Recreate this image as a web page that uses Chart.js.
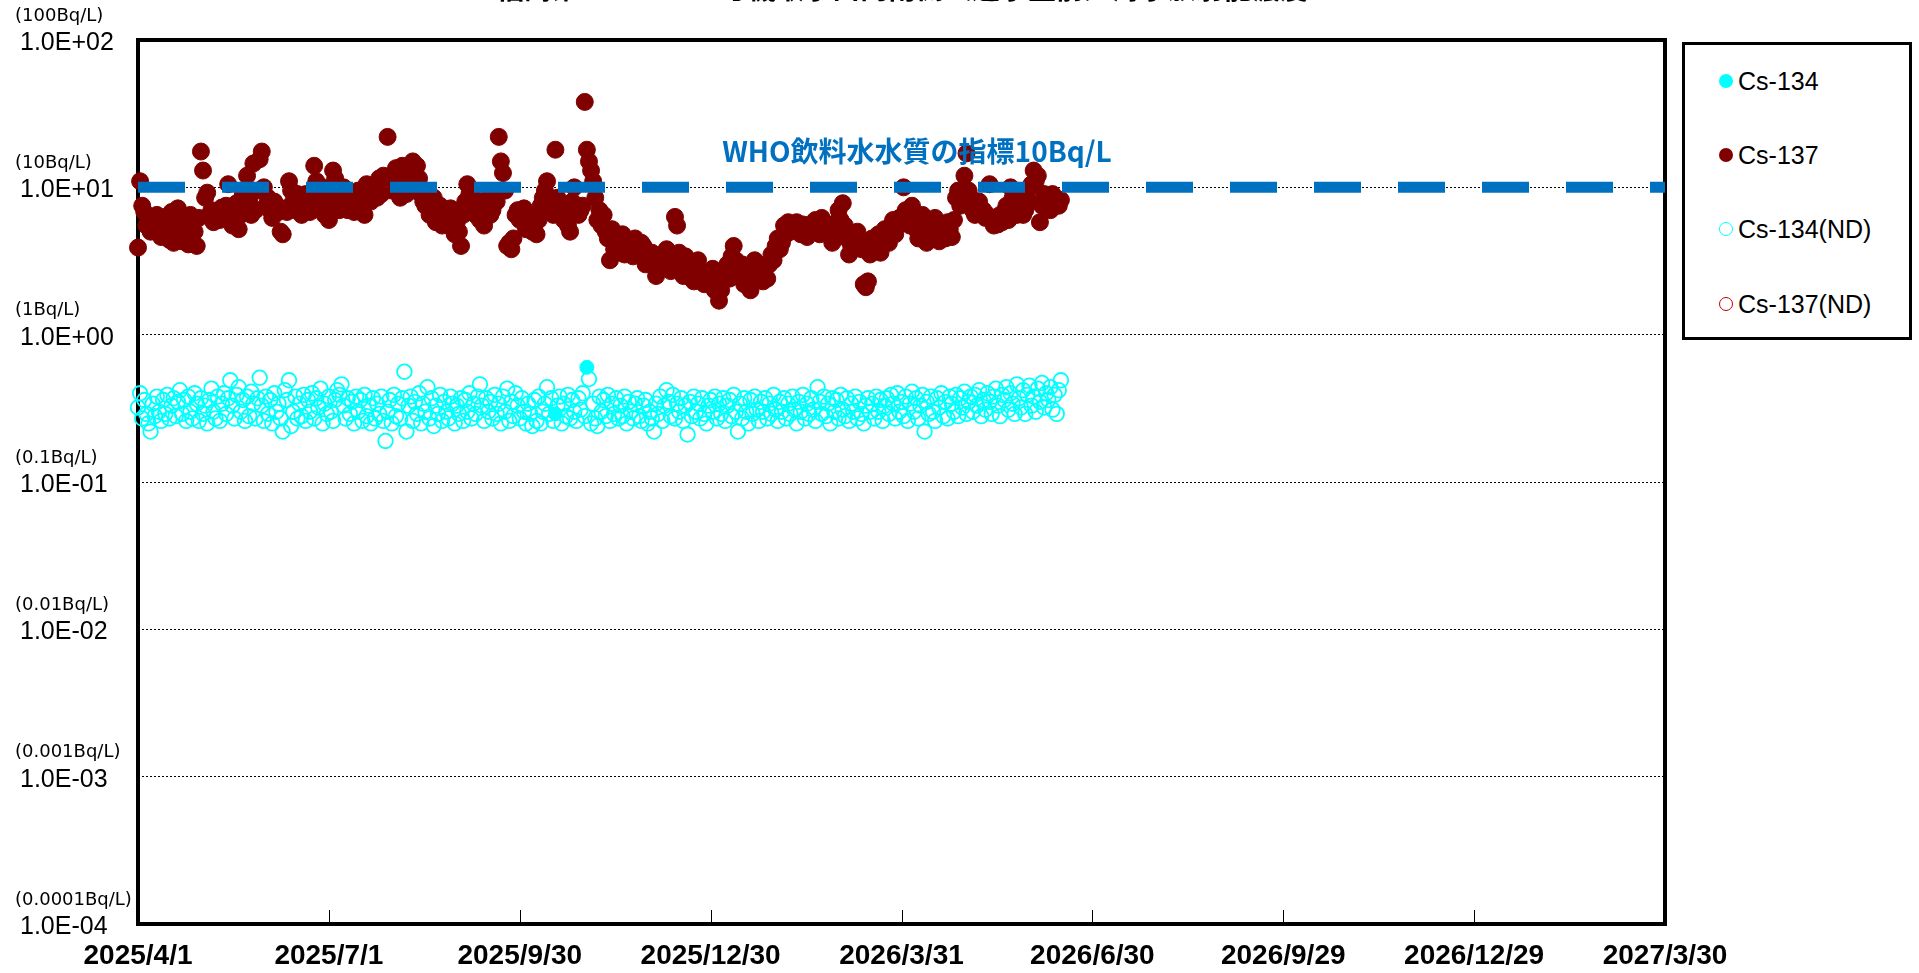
<!DOCTYPE html>
<html lang="ja">
<head>
<meta charset="utf-8">
<title>海水放射能濃度</title>
<script src="https://cdn.jsdelivr.net/npm/chart.js@4.4.1/dist/chart.umd.min.js"></script>
<style>
  html, body { margin: 0; padding: 0; background: #fff; overflow: hidden; }
  #wrap { position: relative; width: 1919px; height: 973px; }
  #c { position: absolute; left: 0; top: 0; }
  #title { position: absolute; left: 496px; top: -27px; font: bold 28px "Noto Sans CJK JP", sans-serif; line-height: 28px; white-space: nowrap; color: #000; }
  #legend { position: absolute; left: 1682px; top: 42px; width: 224px; height: 292px; border: 3px solid #000; background: #fff; }
  .item { position: absolute; left: 0; height: 30px; font: 25px "Liberation Sans", Arial, sans-serif; color: #000; }
  .mk { position: absolute; left: 34px; top: 8px; width: 14px; height: 14px; border-radius: 50%; box-sizing: border-box; }
  .lbl { position: absolute; left: 53px; top: 0; line-height: 30px; white-space: nowrap; }
</style>
</head>
<body>
<div id="wrap">
  <canvas id="c" width="1919" height="973"></canvas>
  <div id="title">福島第一　１～４号機取水口内南側（遮水壁前）海水放射能濃度</div>
  <div id="legend"></div>
</div>
<script>
// ---------------- data ----------------
const startDate = '2025-04-01';
const xTickDates = ['2025-04-01','2025-07-01','2025-09-30','2025-12-30','2026-03-31','2026-06-30','2026-09-29','2026-12-29','2027-03-30'];
const xTickLabels = ['2025/4/1','2025/7/1','2025/9/30','2025/12/30','2026/3/31','2026/6/30','2026/9/29','2026/12/29','2027/3/30'];
const yTickValues = [1e-4, 1e-3, 1e-2, 1e-1, 1e0, 1e1, 1e2];
const yTickLabels = ['1.0E-04','1.0E-03','1.0E-02','1.0E-01','1.0E+00','1.0E+01','1.0E+02'];
const yUnitLabels = ['(0.0001Bq/L)','(0.001Bq/L)','(0.01Bq/L)','(0.1Bq/L)','(1Bq/L)','(10Bq/L)','(100Bq/L)'];
const seriesNames = ['Cs-134','Cs-137','Cs-134(ND)','Cs-137(ND)'];
const whoValue = 10;
const whoLabel = 'WHO飲料水水質の指標10Bq/L';

// Cs-137 (daily from startDate), Bq/L
const cs137Values = [
  3.9, 11, 7.5, 6.8, 5.5, 6.2, 5.0,
  6.0, 5.2, 6.5, 5.8, 4.6, 5.4, 6.3,
  5.0, 4.4, 6.8, 4.2, 5.6, 7.2, 4.8,
  4.3, 5.2, 6.0, 4.1, 6.5, 4.2, 5.0,
  4.0, 6.2, 17.5, 13, 8.5, 9.2, 6.5,
  7.0, 5.8, 6.6, 6.9, 6.0, 7.3, 6.2,
  7.5, 10.5, 6.8, 5.5, 6.0, 7.8, 5.2,
  6.5, 9.0, 7.2, 12.0, 8.0, 6.5, 14.5,
  7.0, 9.5, 15.5, 17.5, 10, 7.5, 8.5,
  7.0, 6.2, 8.0, 7.5, 6.8, 5.0, 4.8,
  7.2, 6.8, 11, 9.5, 8.0, 7.0, 9.0,
  7.5, 6.5, 8.5, 9.0, 7.2, 6.8, 8.0,
  14, 11, 8.8, 7.5, 10, 6.5, 7.8,
  6.0, 9.0, 13, 11.5, 8.5, 7.0, 9.5,
  10, 8.5, 7.0, 9.0, 7.8, 6.8, 8.8,
  9.5, 7.2, 8.0, 6.5, 10.5, 9.0, 8.0,
  9.8, 10.5, 8.5, 11.5, 9.0, 12.0, 10.5,
  22, 11, 9.5, 10.5, 13.5, 12, 8.5,
  14, 11, 9.0, 12.5, 10, 15, 9.5,
  14, 11.5, 9.0, 8.0, 7.5, 9.0, 6.5,
  7.0, 8.5, 5.8, 6.2, 7.5, 5.5, 7.0,
  6.0, 5.5, 7.2, 6.5, 4.8, 5.8, 5.0,
  4.0, 6.5, 8.0, 10.5, 9.0, 7.0, 8.5,
  6.5, 7.5, 6.0, 8.0, 5.5, 7.8, 8.5,
  6.5, 7.0, 9.0, 8.0, 22, 15, 12.5,
  9.5, 4.0, 4.2, 3.8, 4.5, 6.5, 7.0,
  6.0, 6.5, 7.2, 5.2, 5.8, 6.5, 5.0,
  5.5, 4.8, 6.0, 7.5, 8.5, 9.5, 11,
  8.0, 7.0, 6.5, 18, 8.5, 7.5, 6.8,
  6.0, 7.0, 5.5, 5.0, 8.0, 10, 7.0,
  6.5, 7.0, 7.5, 38, 18, 15, 13,
  11, 8.5, 6.0, 7.0, 5.5, 6.5, 5.0,
  4.5, 3.2, 5.2, 3.8, 4.5, 4.2, 3.6,
  4.8, 3.5, 4.0, 4.3, 3.8, 3.4, 4.5,
  3.8, 3.5, 4.2, 4.0, 3.0, 3.6, 3.2,
  3.6, 3.0, 2.5, 3.3, 2.8, 3.5, 3.0,
  3.8, 3.2, 2.7, 3.5, 6.3, 5.5, 3.6,
  3.0, 2.5, 3.4, 2.8, 3.0, 2.4, 2.3,
  2.8, 3.2, 2.6, 2.3, 2.2, 2.6, 2.3,
  2.5, 2.8, 2.0, 2.2, 1.7, 2.0, 2.6,
  2.8, 3.0, 2.4, 3.4, 4.0, 3.2, 2.8,
  2.6, 3.0, 2.2, 2.5, 2.8, 2.0, 2.4,
  3.2, 2.6, 3.0, 2.5, 2.3, 2.8, 2.4,
  3.0, 3.5, 3.2, 4.0, 4.5, 3.8, 4.2,
  5.5, 4.8, 5.8, 5.0, 5.6, 5.2, 5.8,
  5.0, 4.8, 5.6, 5.2, 4.6, 5.4, 5.0,
  5.8, 6.0, 5.2, 4.8, 6.2, 5.5, 5.0,
  4.8, 5.5, 4.2, 5.0, 5.8, 7.0, 6.0,
  7.8, 5.5, 4.5, 3.5, 4.0, 4.8, 4.2,
  5.0, 4.2, 3.8, 2.2, 2.1, 2.3, 3.5,
  4.5, 3.8, 4.2, 4.8, 3.6, 4.5, 5.2,
  5.0, 4.2, 5.5, 6.0, 4.8, 5.5, 6.2,
  5.8, 10, 7.0, 6.2, 5.5, 7.5, 6.0,
  5.2, 4.5, 5.8, 6.5, 5.0, 4.2, 6.0,
  5.5, 4.8, 6.2, 5.0, 4.3, 5.5, 4.8,
  4.5, 5.8, 5.2, 4.6, 6.0, 8.5, 9.5,
  7.5, 8.0, 12, 17, 9.5, 8.5, 7.0,
  6.5, 7.5, 8.0, 6.8, 7.0, 6.2, 6.5,
  10.5, 6.0, 5.5, 6.2, 5.6, 6.5, 5.8,
  6.8, 7.5, 6.0, 10, 8.5, 7.2, 6.5,
  7.5, 8.5, 6.5, 7.0, 9.5, 8.0, 10.5,
  13, 11, 12, 5.8, 7.5, 9.0, 8.2,
  8.5, 7.0, 9.0, 7.5, 8.0, 7.5, 8.2
];

// Cs-134 below detection limit (daily from startDate), Bq/L
const cs134NdValues = [
  0.32, 0.40, 0.27, 0.36, 0.29, 0.25, 0.22,
  0.34, 0.28, 0.38, 0.30, 0.26, 0.36, 0.29,
  0.39, 0.27, 0.33, 0.37, 0.28, 0.35, 0.42,
  0.29, 0.36, 0.26, 0.38, 0.30, 0.27, 0.40,
  0.34, 0.26, 0.37, 0.29, 0.33, 0.25, 0.36,
  0.43, 0.30, 0.27, 0.38, 0.26, 0.34, 0.40,
  0.29, 0.37, 0.49, 0.33, 0.27, 0.39, 0.44,
  0.30, 0.36, 0.26, 0.38, 0.28, 0.41, 0.34,
  0.27, 0.37, 0.51, 0.33, 0.26, 0.38, 0.29,
  0.36, 0.25, 0.40, 0.30, 0.34, 0.27, 0.22,
  0.42, 0.36, 0.49, 0.24, 0.30, 0.38, 0.27,
  0.34, 0.28, 0.39, 0.26, 0.36, 0.30, 0.40,
  0.27, 0.37, 0.32, 0.43, 0.25, 0.34, 0.29,
  0.38, 0.30, 0.26, 0.36, 0.42, 0.39, 0.46,
  0.33, 0.27, 0.37, 0.29, 0.35, 0.25, 0.38,
  0.30, 0.36, 0.26, 0.39, 0.28, 0.33, 0.25,
  0.37, 0.27, 0.34, 0.29, 0.38, 0.26, 0.19,
  0.30, 0.36, 0.25, 0.39, 0.28, 0.34, 0.27,
  0.37, 0.56, 0.22, 0.33, 0.38, 0.26, 0.35,
  0.29, 0.40, 0.25, 0.34, 0.30, 0.44, 0.27,
  0.37, 0.24, 0.33, 0.29, 0.39, 0.26, 0.35,
  0.30, 0.27, 0.38, 0.34, 0.25, 0.33, 0.29,
  0.37, 0.26, 0.36, 0.30, 0.40, 0.27, 0.34,
  0.29, 0.38, 0.46, 0.33, 0.26, 0.37, 0.30,
  0.35, 0.27, 0.39, 0.29, 0.34, 0.25, 0.38,
  0.30, 0.43, 0.26, 0.35, 0.28, 0.40, 0.33,
  0.27, 0.37, 0.30, 0.25, 0.34, 0.29, 0.24,
  0.36, 0.26, 0.38, 0.25, 0.30, 0.34, 0.44,
  0.29, 0.37, 0.26, null, 0.33, 0.38, 0.25,
  0.34, 0.28, 0.39, 0.27, 0.36, 0.30, 0.26,
  0.37, 0.31, 0.40, 0.28, null, 0.50, 0.25,
  0.34, 0.27, 0.24, 0.38, 0.30, 0.36, 0.28,
  0.39, 0.26, 0.34, 0.29, 0.37, 0.27, 0.33,
  0.28, 0.38, 0.25, 0.35, 0.30, 0.27, 0.34,
  0.37, 0.28, 0.26, 0.33, 0.36, 0.25, 0.30,
  0.27, 0.22, 0.34, 0.29, 0.38, 0.26, 0.33,
  0.42, 0.35, 0.28, 0.39, 0.27, 0.34, 0.30,
  0.37, 0.26, 0.33, 0.21, 0.35, 0.28, 0.38,
  0.30, 0.34, 0.27, 0.37, 0.29, 0.25, 0.33,
  0.36, 0.30, 0.38, 0.27, 0.34, 0.29, 0.37,
  0.26, 0.33, 0.36, 0.28, 0.39, 0.30, 0.22,
  0.34, 0.27, 0.37, 0.30, 0.25, 0.36, 0.29,
  0.38, 0.31, 0.26, 0.35, 0.30, 0.37, 0.27,
  0.34, 0.29, 0.39, 0.31, 0.26, 0.35, 0.30,
  0.37, 0.27, 0.34, 0.29, 0.38, 0.31, 0.25,
  0.35, 0.30, 0.39, 0.27, 0.34, 0.29, 0.37,
  0.31, 0.26, 0.44, 0.35, 0.29, 0.38, 0.28,
  0.34, 0.25, 0.37, 0.30, 0.36, 0.27, 0.39,
  0.31, 0.28, 0.37, 0.26, 0.34, 0.30, 0.38,
  0.27, 0.35, 0.29, 0.25, 0.33, 0.37, 0.30,
  0.34, 0.27, 0.38, 0.30, 0.36, 0.26, 0.33,
  0.37, 0.29, 0.39, 0.34, 0.27, 0.40, 0.30,
  0.35, 0.28, 0.38, 0.26, 0.34, 0.41, 0.30,
  0.37, 0.27, 0.33, 0.39, 0.22, 0.35, 0.29,
  0.38, 0.30, 0.26, 0.37, 0.32, 0.40, 0.28,
  0.35, 0.27, 0.38, 0.34, 0.30, 0.39, 0.28,
  0.37, 0.32, 0.41, 0.29, 0.35, 0.38, 0.30,
  0.39, 0.33, 0.42, 0.28, 0.36, 0.31, 0.40,
  0.35, 0.29, 0.38, 0.43, 0.33, 0.28, 0.39,
  0.36, 0.44, 0.31, 0.40, 0.34, 0.29, 0.46,
  0.37, 0.32, 0.42, 0.29, 0.39, 0.45, 0.33,
  0.38, 0.30, 0.43, 0.35, 0.47, 0.32, 0.40,
  0.36, 0.44, 0.31, 0.39, 0.29, 0.42, 0.49
];

// Cs-134 detected
const cs134Dates = ['2025-10-17', '2025-11-01'];
const cs134Values = [0.29, 0.60];

// Cs-137 below detection limit (none in period)
const cs137NdDates = [];
const cs137NdValues = [];

// ---------------- helpers ----------------
const DAY = 86400000;
function dayOf(s) {
  const [y, m, d] = s.split('-').map(Number);
  const [y0, m0, d0] = startDate.split('-').map(Number);
  return Math.round((Date.UTC(y, m - 1, d) - Date.UTC(y0, m0 - 1, d0)) / DAY);
}
const xTickDays = xTickDates.map(dayOf);
const xMin = xTickDays[0], xMax = xTickDays[xTickDays.length - 1];
const daily = (vals) => vals.map((v, i) => (v === null ? null : { x: i, y: v })).filter(p => p);
const dated = (ds, vs) => ds.map((d, i) => ({ x: dayOf(d), y: vs[i] }));

const CYAN = '#00FFFF', MAROON = '#800000', RED = '#CC0000', BLUE = '#0070C0';

// ---------------- legend (HTML) ----------------
const legendStyles = [
  { bg: CYAN, border: 'none' },
  { bg: MAROON, border: 'none' },
  { bg: 'transparent', border: '1.5px solid ' + CYAN },
  { bg: 'transparent', border: '1.5px solid ' + RED }
];
const legendTops = [21, 95, 169, 244];
const legendEl = document.getElementById('legend');
seriesNames.forEach((name, i) => {
  const it = document.createElement('div');
  it.className = 'item';
  it.style.top = legendTops[i] + 'px';
  const mk = document.createElement('div');
  mk.className = 'mk';
  mk.style.background = legendStyles[i].bg;
  mk.style.border = legendStyles[i].border;
  const lb = document.createElement('div');
  lb.className = 'lbl';
  lb.textContent = name;
  it.appendChild(mk); it.appendChild(lb);
  legendEl.appendChild(it);
});

// ---------------- decoration plugin ----------------
const decor = {
  id: 'decor',
  beforeDatasetsDraw(chart) {
    const { ctx, chartArea: a, scales: { x } } = chart;
    ctx.save();
    ctx.strokeStyle = '#000';
    ctx.lineWidth = 1;
    x.ticks.forEach((t, i) => {
      if (i === 0 || i === x.ticks.length - 1) return;
      const px = Math.round(x.getPixelForValue(t.value)) + 0.5;
      ctx.beginPath(); ctx.moveTo(px, a.bottom); ctx.lineTo(px, a.bottom - 14); ctx.stroke();
    });
    ctx.lineWidth = 4;
    ctx.strokeRect(a.left, a.top, a.right - a.left, a.bottom - a.top);
    ctx.restore();
  },
  afterDatasetsDraw(chart) {
    const { ctx, scales: { x, y } } = chart;
    ctx.save();
    ctx.fillStyle = '#000';
    ctx.font = '18px "DejaVu Sans", sans-serif';
    ctx.textAlign = 'left';
    ctx.textBaseline = 'middle';
    yTickValues.forEach((v, i) => {
      ctx.fillText(yUnitLabels[i], 15, y.getPixelForValue(v) - 24);
    });
    ctx.fillStyle = BLUE;
    ctx.font = 'bold 28px "Noto Sans CJK JP", sans-serif';
    ctx.textAlign = 'center';
    ctx.fillText(whoLabel, 917, y.getPixelForValue(whoValue) - 36);
    ctx.restore();
  }
};

// ---------------- chart ----------------
new Chart(document.getElementById('c'), {
  type: 'scatter',
  data: {
    datasets: [
      {
        type: 'line', label: 'WHO', order: 0,
        data: [{ x: xMin, y: whoValue }, { x: xMax, y: whoValue }],
        borderColor: BLUE, borderWidth: 11, borderDash: [47, 37], borderCapStyle: 'butt',
        pointRadius: 0, fill: false, showLine: true
      },
      {
        label: seriesNames[0], order: 1, data: dated(cs134Dates, cs134Values),
        pointRadius: 7, backgroundColor: CYAN, borderColor: CYAN, borderWidth: 1, clip: false
      },
      {
        label: seriesNames[1], order: 2, data: daily(cs137Values),
        pointRadius: 8.5, backgroundColor: MAROON, borderColor: MAROON, borderWidth: 1, clip: false
      },
      {
        label: seriesNames[2], order: 3, data: daily(cs134NdValues),
        pointRadius: 7.3, backgroundColor: 'rgba(0,0,0,0)', borderColor: CYAN, borderWidth: 1.8, clip: false
      },
      {
        label: seriesNames[3], order: 4, data: dated(cs137NdDates, cs137NdValues),
        pointRadius: 7.3, backgroundColor: 'rgba(0,0,0,0)', borderColor: RED, borderWidth: 1.8, clip: false
      }
    ]
  },
  options: {
    responsive: false,
    animation: false,
    devicePixelRatio: 1,
    layout: { padding: { left: 20, top: 40, right: 254, bottom: 0 } },
    plugins: { legend: { display: false }, title: { display: false }, tooltip: { enabled: false } },
    events: [],
    scales: {
      x: {
        type: 'linear', min: xMin, max: xMax,
        afterBuildTicks: (s) => { s.ticks = xTickDays.map(v => ({ value: v })); },
        afterFit: (s) => { s.height = 49; },
        grid: { display: false, drawTicks: false },
        border: { display: false },
        ticks: {
          autoSkip: false, maxRotation: 0, padding: 15, color: '#000',
          font: { family: '"Liberation Sans", Arial, sans-serif', size: 28, weight: 'bold' },
          callback: (v, i) => xTickLabels[i]
        }
      },
      y: {
        type: 'logarithmic', min: yTickValues[0], max: yTickValues[yTickValues.length - 1],
        afterBuildTicks: (s) => { s.ticks = yTickValues.map(v => ({ value: v })); },
        afterFit: (s) => { s.width = 118; },
        grid: { color: '#000', lineWidth: 1, drawTicks: false },
        border: { display: false, dash: [2, 2] },
        ticks: {
          autoSkip: false, crossAlign: 'far', color: '#000', labelOffset: 3,
          font: { family: '"Liberation Sans", Arial, sans-serif', size: 25 },
          callback: (v, i) => yTickLabels[i]
        }
      }
    }
  },
  plugins: [decor]
});
</script>
</body>
</html>
